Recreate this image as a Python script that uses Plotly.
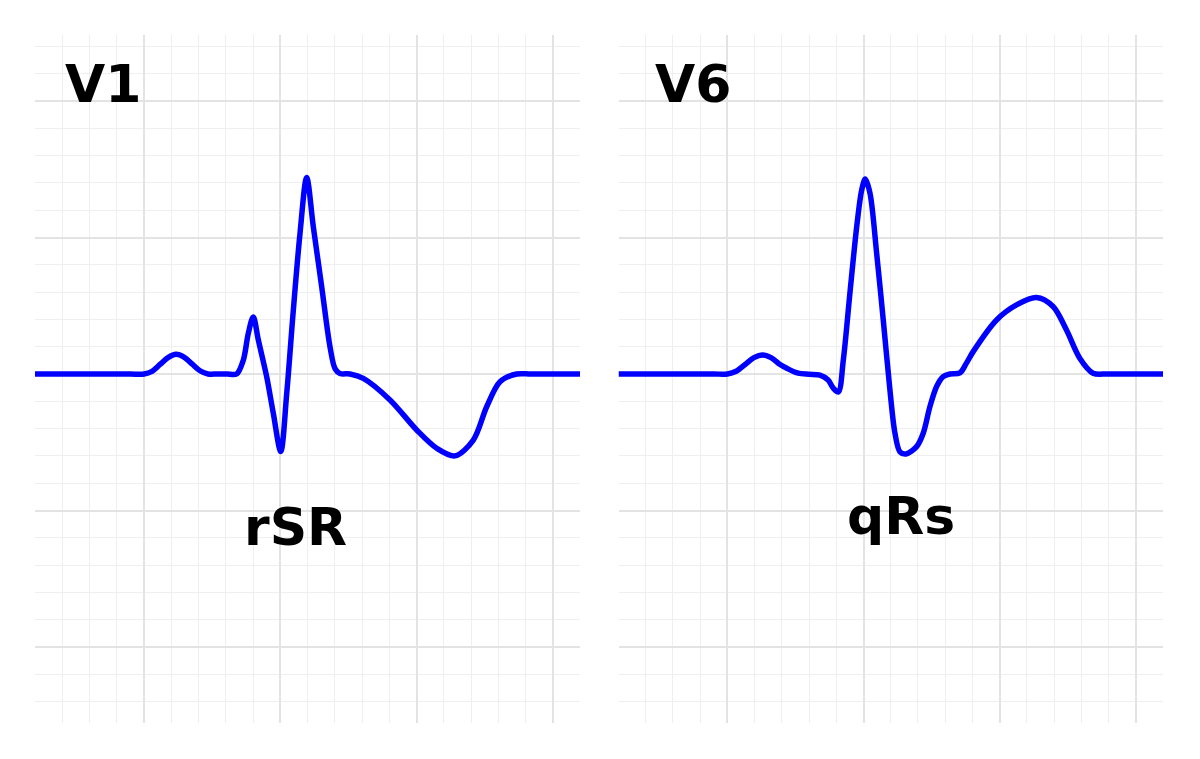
import plotly.graph_objects as go

# V1 lead (rSR') : time in s, amplitude in mV
v1_t = [-0.16, -0.11, -0.06, -0.02, 0.0, 0.0117, 0.0235, 0.0352, 0.047, 0.0587, 0.0705, 0.0822, 0.094,
        0.108, 0.122, 0.136, 0.1458, 0.1531, 0.1604, 0.1678, 0.1801, 0.1898, 0.2007, 0.2095,
        0.2192, 0.229, 0.2388, 0.2485, 0.2608, 0.273, 0.2804, 0.2877, 0.3024,
        0.3219, 0.3611, 0.4003, 0.4297, 0.4565, 0.4834, 0.503, 0.5226, 0.5471,
        0.567, 0.59, 0.615, 0.64]
v1_mv = [0.0, 0.0, 0.0, 0.0, 0.0, 0.01, 0.035, 0.06, 0.072, 0.062, 0.037, 0.012, 0.0,
         0.0, 0.0, 0.0, 0.051, 0.149, 0.209, 0.125, -0.01, -0.144, -0.284, -0.071,
         0.234, 0.515, 0.72, 0.54, 0.32, 0.1, 0.02, 0.002, 0.0,
         -0.016, -0.095, -0.205, -0.272, -0.30, -0.242, -0.12, -0.028, 0.0,
         0.0, 0.0, 0.0, 0.0]

# V6 lead (qRs)
v6_t = [-0.16, -0.11, -0.06, -0.02, 0.0, 0.0128, 0.026, 0.039, 0.052, 0.064, 0.0774, 0.0873, 0.104,
        0.12, 0.136, 0.148, 0.1556, 0.163, 0.1703, 0.18, 0.19, 0.1973, 0.2026, 0.2095,
        0.2193, 0.229, 0.2388, 0.2462, 0.2535, 0.2623, 0.278, 0.2877, 0.2975,
        0.3074, 0.317, 0.327, 0.3416, 0.351, 0.3611, 0.3955, 0.4248, 0.4542,
        0.4785, 0.4982, 0.5177, 0.5372, 0.5569, 0.575, 0.595, 0.615, 0.64]
v6_mv = [0.0, 0.0, 0.0, 0.0, 0.0, 0.01, 0.035, 0.06, 0.07, 0.06, 0.035, 0.021, 0.003,
         -0.001, -0.004, -0.022, -0.052, -0.066, 0.051, 0.296, 0.54, 0.674, 0.714, 0.662,
         0.442, 0.198, -0.059, -0.217, -0.285, -0.293, -0.266, -0.217, -0.12,
         -0.046, -0.01, 0.0, 0.004, 0.039, 0.082, 0.198, 0.253, 0.28,
         0.247, 0.161, 0.058, 0.003, 0.0, 0.0, 0.0, 0.0, 0.0]

lead_names = ["V1", "V6"]
pattern_labels = ["rSR", "qRs"]
label_pos_t = [-0.0605, -0.051]
label_pos_mv = [1.062, 1.062]
pattern_pos_t = [0.223, 0.2557]
pattern_pos_mv = [-0.56, -0.52]

X_RANGE = [-0.16, 0.64]
Y_RANGE = [-1.2784, 1.2418]

fig = go.Figure()
fig.add_trace(go.Scatter(x=v1_t, y=v1_mv, mode="lines",
                         line=dict(color="#0000ff", width=5.5, shape="spline", smoothing=0.9),
                         xaxis="x", yaxis="y", showlegend=False, hoverinfo="skip"))
fig.add_trace(go.Scatter(x=v6_t, y=v6_mv, mode="lines",
                         line=dict(color="#0000ff", width=5.5, shape="spline", smoothing=0.9),
                         xaxis="x2", yaxis="y2", showlegend=False, hoverinfo="skip"))

major_col = "#e3e3e3"
minor_col = "#efefef"

def xax(domain, anchor):
    return dict(domain=domain, anchor=anchor, range=X_RANGE, tick0=0, dtick=0.2,
                showgrid=True, gridcolor=major_col, gridwidth=2.2, zeroline=False,
                showticklabels=False, ticks="", showline=False, fixedrange=True,
                minor=dict(dtick=0.04, tick0=0, showgrid=True, gridcolor=minor_col, gridwidth=1.2, ticks=""))

def yax(domain, anchor):
    return dict(domain=domain, anchor=anchor, range=Y_RANGE, tick0=0, dtick=0.5,
                showgrid=True, gridcolor=major_col, gridwidth=2.2, zeroline=False,
                showticklabels=False, ticks="", showline=False, fixedrange=True,
                minor=dict(dtick=0.1, tick0=0, showgrid=True, gridcolor=minor_col, gridwidth=1.2, ticks=""))

ydom = [(759 - 723) / 759, (759 - 35) / 759]
fig.update_layout(
    width=1200, height=759,
    margin=dict(l=0, r=0, t=0, b=0),
    paper_bgcolor="white", plot_bgcolor="white",
    xaxis=xax([35 / 1200, 580 / 1200], "y"),
    yaxis=yax(ydom, "x"),
    xaxis2=xax([618.5 / 1200, 1163 / 1200], "y2"),
    yaxis2=yax(ydom, "x2"),
    font=dict(family="DejaVu Sans", color="black"),
)

refs = [("x", "y"), ("x2", "y2")]
for i, (xr, yr) in enumerate(refs):
    fig.add_annotation(x=label_pos_t[i], y=label_pos_mv[i], xref=xr, yref=yr,
                       text="<b>%s</b>" % lead_names[i], showarrow=False,
                       font=dict(size=52, family="DejaVu Sans", color="black"),
                       xanchor="center", yanchor="middle")
    fig.add_annotation(x=pattern_pos_t[i], y=pattern_pos_mv[i], xref=xr, yref=yr,
                       text="<b>%s</b>" % pattern_labels[i], showarrow=False,
                       font=dict(size=52, family="DejaVu Sans", color="black"),
                       xanchor="center", yanchor="middle")

fig.write_html("out.html", config={"displayModeBar": False},
               post_script="document.body.style.margin='0';")
